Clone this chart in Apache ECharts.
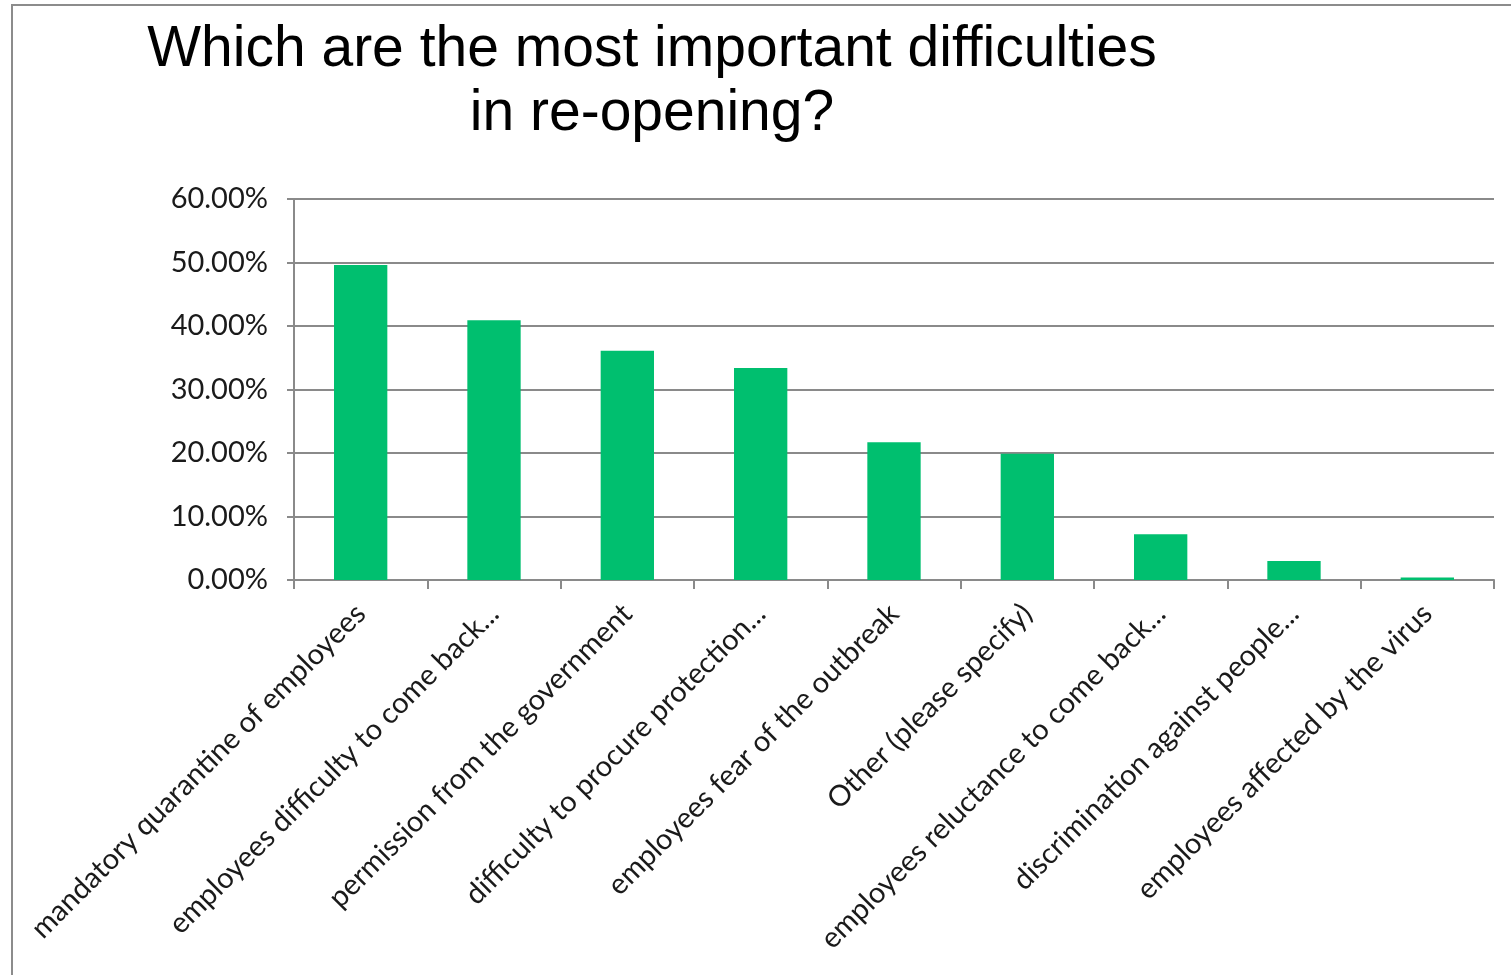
<!DOCTYPE html>
<html>
<head>
<meta charset="utf-8">
<script src="https://cdn.jsdelivr.net/npm/echarts@6/dist/echarts.min.js"></script>
<style>
  html, body { margin: 0; padding: 0; background: #fff; }
  #chart { width: 1511px; height: 975px; }
</style>
</head>
<body>
<div id="chart"></div>
<script>
// Survey answers: share of respondents naming each difficulty
const categories = [
  'mandatory quarantine of employees',
  'employees difficulty to come back...',
  'permission from the government',
  'difficulty to procure protection...',
  'employees fear of the outbreak',
  'Other (please specify)',
  'employees reluctance to come back...',
  'discrimination against people...',
  'employees affected by the virus'
];
const shares = [0.496, 0.409, 0.361, 0.334, 0.217, 0.199, 0.072, 0.030, 0.004];
const titleLines = ['Which are the most important difficulties', 'in re-opening?'];

const chart = echarts.init(document.getElementById('chart'));
const axisGray = '#8a8a8a';
const labelFont = 'Lato, "Open Sans", sans-serif';

chart.setOption({
  animation: false,
  backgroundColor: '#ffffff',
  graphic: [
    {
      type: 'polyline',
      shape: { points: [[12, 975], [12, 5], [1511, 5]] },
      style: { stroke: '#8c8c8c', lineWidth: 2, fill: null }
    },
    {
      type: 'text',
      x: 652,
      y: 18,
      style: {
        text: titleLines.join('\n'),
        font: '57px "Liberation Sans", Arial, sans-serif',
        fill: '#000',
        textAlign: 'center',
        textVerticalAlign: 'top',
        lineHeight: 64
      }
    }
  ],
  grid: { left: 294, right: 17, top: 199, bottom: 395, containLabel: false },
  xAxis: {
    type: 'category',
    data: categories,
    axisLine: { lineStyle: { color: axisGray, width: 2 } },
    axisTick: { show: true, length: 9, alignWithLabel: false, lineStyle: { color: axisGray, width: 2 } },
    axisLabel: {
      rotate: 45,
      interval: 0,
      margin: 29,
      color: '#1a1a1a',
      fontFamily: labelFont,
      fontSize: 29
    }
  },
  yAxis: {
    type: 'value',
    min: 0,
    max: 0.6,
    interval: 0.1,
    axisLine: { show: true, lineStyle: { color: axisGray, width: 2 } },
    axisTick: { show: true, length: 7, lineStyle: { color: axisGray, width: 2 } },
    splitLine: { lineStyle: { color: axisGray, width: 2 } },
    axisLabel: {
      margin: 26,
      color: '#1a1a1a',
      fontFamily: labelFont,
      fontSize: 29,
      formatter: v => (v * 100).toFixed(2) + '%'
    }
  },
  series: [{
    type: 'bar',
    data: shares,
    barWidth: '40%',
    itemStyle: { color: '#00bf6f' }
  }]
});
</script>
</body>
</html>
